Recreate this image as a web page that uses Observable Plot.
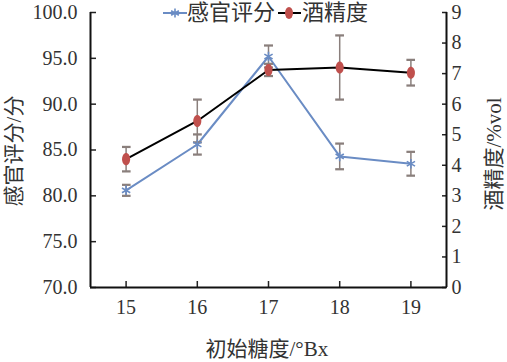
<!DOCTYPE html>
<html>
<head>
<meta charset="utf-8">
<script src="https://cdn.jsdelivr.net/npm/d3@7"></script>
<script src="https://cdn.jsdelivr.net/npm/@observablehq/plot@0.6"></script>
<style>
  html, body { margin: 0; padding: 0; background: #fff; }
  #wrap { position: relative; width: 507px; height: 362px; font-family: "Liberation Serif", "Times New Roman", Times, "Noto Sans CJK SC", serif; color: #222; }
  #wrap svg.plot { position: absolute; left: 0; top: 0; }
  .title { position: absolute; font-size: 21px; white-space: nowrap; color: #333; }
  #legend { position: absolute; top: 0px; left: 160px; height: 26px; display: flex; align-items: center; font-size: 22px; color: #333; white-space: nowrap; }
  #legend span { line-height: 26px; }
</style>
</head>
<body>
<div id="wrap"></div>
<script>
const sugar = [15, 16, 17, 18, 19];
const sensory = [80.6, 85.6, 95.2, 84.3, 83.5];
const sensoryErr = [0.6, 1.1, 1.2, 1.4, 1.3];
const alcohol = [4.2, 5.45, 7.12, 7.2, 7.03];
const alcoholErr = [0.4, 0.7, 0.2, 1.05, 0.42];
const leftTicks = [70, 75, 80, 85, 90, 95, 100];
const rightTicks = [0, 1, 2, 3, 4, 5, 6, 7, 8, 9];
const xDomain = [14.5, 19.5];
const yDomain = [70, 100];
const rightMax = 9;

const toLeft = v => yDomain[0] + v * (yDomain[1] - yDomain[0]) / rightMax;

const sData = sugar.map((x, i) => ({x, y: sensory[i], lo: sensory[i] - sensoryErr[i], hi: sensory[i] + sensoryErr[i]}));
const aData = sugar.map((x, i) => ({x, y: toLeft(alcohol[i]), lo: toLeft(alcohol[i] - alcoholErr[i]), hi: toLeft(alcohol[i] + alcoholErr[i])}));

const blue = "#6a8cc4";
const red = "#c0504d";
const errColor = "#8a7f7c";
const serif = "'Liberation Serif', 'Times New Roman', Times, serif";

const ellipse = {
  draw(context, size) {
    const r = Math.sqrt(size / Math.PI);
    const rx = r * 0.72, ry = r * 1.08, k = 0.5523;
    context.moveTo(rx, 0);
    context.bezierCurveTo(rx, ry * k, rx * k, ry, 0, ry);
    context.bezierCurveTo(-rx * k, ry, -rx, ry * k, -rx, 0);
    context.bezierCurveTo(-rx, -ry * k, -rx * k, -ry, 0, -ry);
    context.bezierCurveTo(rx * k, -ry, rx, -ry * k, rx, 0);
    context.closePath();
  }
};

const chart = Plot.plot({
  width: 507,
  height: 362,
  marginLeft: 90,
  marginRight: 61,
  marginTop: 12,
  marginBottom: 75,
  style: {fontFamily: serif, fontSize: "20px", color: "#333", background: "transparent"},
  x: {domain: xDomain},
  y: {domain: yDomain},
  marks: [
    Plot.axisY({anchor: "left", ticks: leftTicks, tickSize: -6, tickFormat: () => "", label: null, strokeWidth: 1.5, stroke: "#222"}),
    Plot.axisY({anchor: "left", ticks: leftTicks, tickSize: 0, tickPadding: 13, tickFormat: d => d.toFixed(1), label: null, fontSize: 20, fontFamily: serif, fill: "#333"}),
    Plot.axisY({anchor: "right", ticks: rightTicks.map(toLeft), tickSize: -5, tickFormat: () => "", label: null, strokeWidth: 1.5, stroke: "#222"}),
    Plot.axisY({anchor: "right", ticks: rightTicks.map(toLeft), tickSize: 0, tickPadding: 5, tickFormat: (d, i) => String(rightTicks[i]), label: null, fontSize: 20, fontFamily: serif, fill: "#333"}),
    Plot.axisX({anchor: "bottom", ticks: sugar, tickSize: -6, tickFormat: () => "", label: null, strokeWidth: 1.5, stroke: "#222"}),
    Plot.axisX({anchor: "bottom", ticks: sugar, tickSize: 0, tickPadding: 12, tickFormat: d => String(d), label: null, fontSize: 20, fontFamily: serif, fill: "#333"}),
    Plot.ruleX(xDomain, {stroke: "#111", strokeWidth: 2}),
    Plot.ruleY([yDomain[0]], {stroke: "#111", strokeWidth: 2}),
    Plot.line(sData, {x: "x", y: "y", stroke: blue, strokeWidth: 2}),
    Plot.line(aData, {x: "x", y: "y", stroke: "#000", strokeWidth: 2}),
    Plot.link(sData, {x1: "x", x2: "x", y1: "lo", y2: "hi", stroke: errColor, strokeWidth: 1.5, markerStart: "tick", markerEnd: "tick"}),
    Plot.link(aData, {x1: "x", x2: "x", y1: "lo", y2: "hi", stroke: errColor, strokeWidth: 1.5, markerStart: "tick", markerEnd: "tick"}),
    Plot.dot(sData, {x: "x", y: "y", symbol: "asterisk", r: 4.5, stroke: blue, strokeWidth: 1.6}),
    Plot.dot(aData, {x: "x", y: "y", symbol: ellipse, r: 5.6, fill: red, stroke: "none"})
  ]
});
chart.classList.add("plot");
const wrap = document.getElementById("wrap");
wrap.appendChild(chart);

function addTitle(text, cx, cy, rotate) {
  const d = document.createElement("div");
  d.className = "title";
  d.textContent = text;
  wrap.appendChild(d);
  const w = d.offsetWidth, h = d.offsetHeight;
  d.style.left = (cx - w / 2) + "px";
  d.style.top = (cy - h / 2) + "px";
  if (rotate) d.style.transform = `rotate(${rotate}deg)`;
}
addTitle("感官评分/分", 12, 151, -90);
addTitle("酒精度/%vol", 491, 154, -90);
addTitle("初始糖度/°Bx", 267, 347, 0);

const legend = document.createElement("div");
legend.id = "legend";
legend.innerHTML = `
<svg width="27" height="26"><line x1="3" y1="13" x2="27" y2="13" stroke="${blue}" stroke-width="2"/>
<path d="M15,8.5V17.5M11.1,10.75L18.9,15.25M11.1,15.25L18.9,10.75" stroke="${blue}" stroke-width="1.6"/></svg><span>感官评分</span>
<svg width="25" height="26" style="margin-left:2px"><line x1="1" y1="13" x2="24" y2="13" stroke="#000" stroke-width="2"/>
<ellipse cx="12" cy="13" rx="4" ry="6" fill="${red}"/></svg><span>酒精度</span>`;
wrap.appendChild(legend);
</script>
</body>
</html>
